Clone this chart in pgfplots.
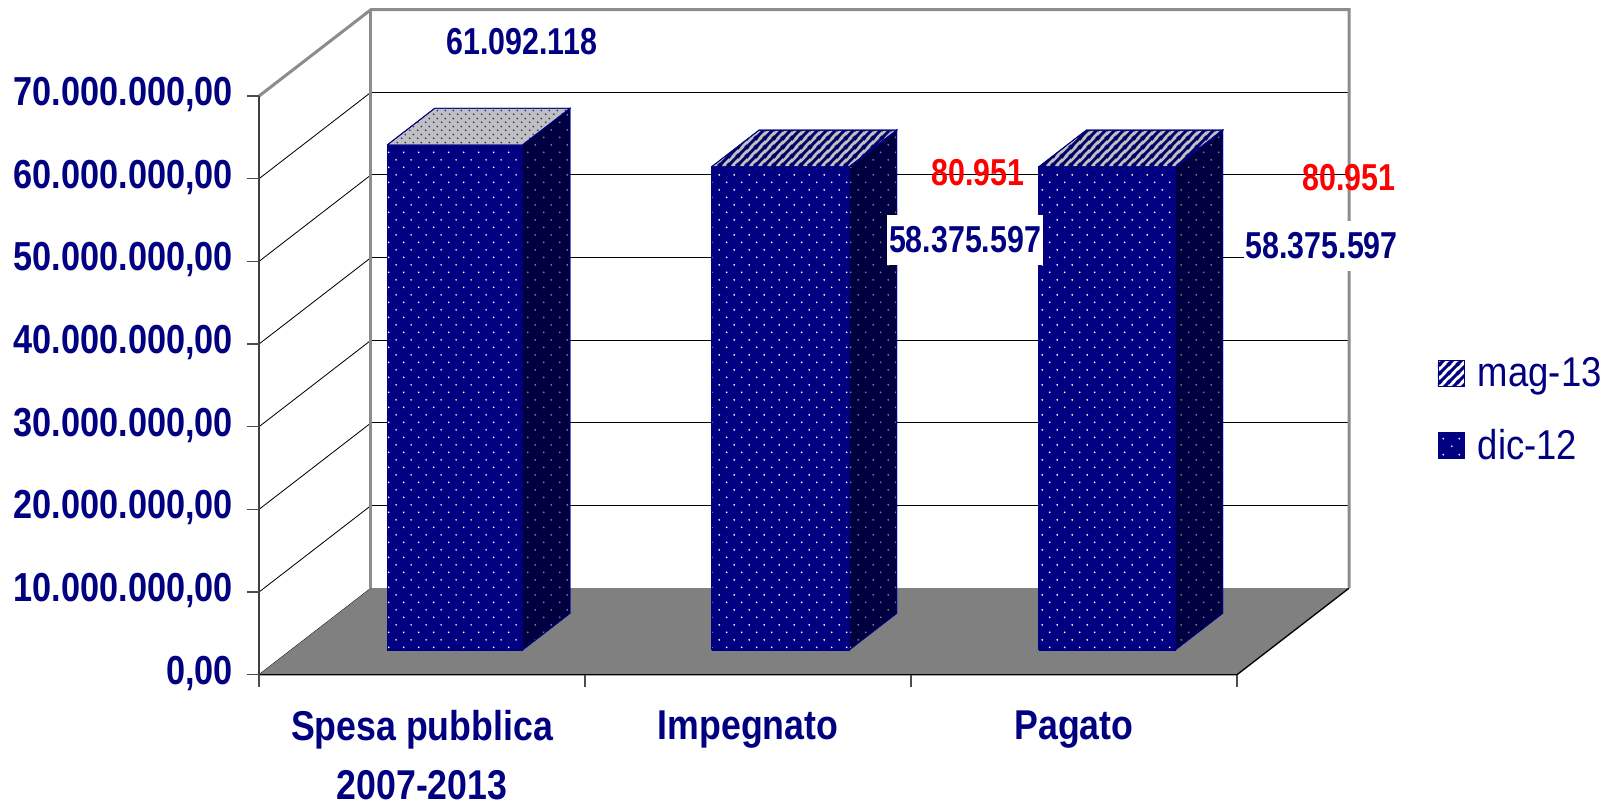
\documentclass[border=0pt]{standalone}
\usepackage{fontspec}
\usepackage{pgfplots}
\pgfplotsset{compat=1.18}
\usetikzlibrary{patterns}
\setmainfont{Liberation Sans}
\newfontfamily\lab[FakeStretch=0.81]{Liberation Sans}
\newfontfamily\zlab[FakeStretch=0.846]{Liberation Sans}
\newfontfamily\xlab[FakeStretch=0.857]{Liberation Sans}
\newfontfamily\leg[FakeStretch=0.875]{Liberation Sans}
\definecolor{nv}{HTML}{000080}
\definecolor{nvd}{HTML}{000040}
\definecolor{flr}{HTML}{808080}
\definecolor{wall}{HTML}{8C8C8C}
\definecolor{topg}{HTML}{C0C0C0}
\pgfdeclarepatternformonly{bdots}{\pgfqpoint{0pt}{0pt}}{\pgfqpoint{9.24pt}{9.24pt}}{\pgfqpoint{9.24pt}{9.24pt}}{%
  \pgfpathcircle{\pgfqpoint{2.31pt}{2.31pt}}{0.6pt}\pgfpathcircle{\pgfqpoint{6.93pt}{6.93pt}}{0.6pt}\pgfusepath{fill}}
\pgfdeclarepatternformonly{tdots}{\pgfqpoint{0pt}{0pt}}{\pgfqpoint{4.8pt}{4.8pt}}{\pgfqpoint{4.8pt}{4.8pt}}{%
  \pgfpathcircle{\pgfqpoint{1.2pt}{1.2pt}}{0.6pt}\pgfpathcircle{\pgfqpoint{3.6pt}{3.6pt}}{0.6pt}\pgfusepath{fill}}
\pgfdeclarepatternformonly{tstripes}{\pgfqpoint{0pt}{0pt}}{\pgfqpoint{5.4pt}{5.4pt}}{\pgfqpoint{5.4pt}{5.4pt}}{%
  \pgfsetlinewidth{1.9pt}\pgfpathmoveto{\pgfqpoint{-1pt}{-1pt}}\pgfpathlineto{\pgfqpoint{6.4pt}{6.4pt}}%
  \pgfpathmoveto{\pgfqpoint{-1pt}{4.4pt}}\pgfpathlineto{\pgfqpoint{1pt}{6.4pt}}%
  \pgfpathmoveto{\pgfqpoint{4.4pt}{-1pt}}\pgfpathlineto{\pgfqpoint{6.4pt}{1pt}}\pgfusepath{stroke}}
\tikzset{
  fr/.style={draw=nv,line width=0.5pt,fill=nv,postaction={pattern=bdots,pattern color=white}},
  sd/.style={draw=nv,line width=0.5pt,fill=nvd,postaction={pattern=bdots,pattern color=gray}},
  tpd/.style={draw=nv,line width=0.5pt,fill=topg,postaction={pattern=tdots,pattern color=nv!70!gray}},
  tps/.style={draw=nv,line width=0.5pt,fill=topg,postaction={pattern=tstripes,pattern color=nv!80!black}},
  tk/.style={draw=black!70,line width=0.8pt},
}
\newcommand\frontf[5]{\addplot3[forget plot,#1] coordinates {(#2,0.2855,#4)(#3,0.2855,#4)(#3,0.2855,#5)(#2,0.2855,#5)(#2,0.2855,#4)};}
\newcommand\sidef[4]{\addplot3[forget plot,#1] coordinates {(#2,0.2855,#3)(#2,0.71,#3)(#2,0.71,#4)(#2,0.2855,#4)(#2,0.2855,#3)};}
\newcommand\topf[4]{\addplot3[forget plot,#1] coordinates {(#2,0.2855,#4)(#3,0.2855,#4)(#3,0.71,#4)(#2,0.71,#4)(#2,0.2855,#4)};}
\newcommand\ztk[1]{\addplot3[forget plot,tk] coordinates {(-0.0368,0,#1)(0,0,#1)};}
\newcommand\xtk[1]{\addplot3[forget plot,tk] coordinates {(#1,0,0)(#1,0,-1.45)};}
\begin{document}
\begin{tikzpicture}
\useasboundingbox (-155.4pt,-77.58pt) rectangle (810pt,404.82pt);
\begin{axis}[
  at={(0pt,0pt)},anchor=origin,
  x={(195.6pt,0pt)},y={(67.2pt,51.9pt)},z={(0pt,4.9596pt)},
  xmin=0,xmax=3,ymin=0,ymax=1,zmin=0,zmax=70,
  clip=false,
  axis line style={draw=none},
  ytick=\empty,
  xtick={0.5,1.5,2.5},
  xticklabels={{Spesa pubblica\\2007-2013},Impegnato,Pagato},
  ztick={0,10,20,30,40,50,60,70},
  zticklabels={{0,00},{10.000.000,00},{20.000.000,00},{30.000.000,00},{40.000.000,00},{50.000.000,00},{60.000.000,00},{70.000.000,00}},
  zmajorgrids=true,
  major grid style={black,line width=0.5pt},
  tickpos=left,
  zticklabel pos=left,
  major tick length=0pt,
  zticklabel style={anchor=east,font=\zlab\bfseries\fontsize{24.3}{26}\selectfont,text=nv,xshift=-15.4pt,yshift=0.9pt,inner sep=0pt},
  xticklabel style={anchor=north,align=center,font=\xlab\bfseries\fontsize{25}{35.4}\selectfont,text=nv,yshift=-21.4pt,inner sep=0pt},
  legend style={at={(1.081,0.3987)},anchor=west,draw=none,fill=none,inner sep=0pt,
    row sep=19.8pt,font=\leg\fontsize{25}{26}\selectfont,text=nv,
    /tikz/every even column/.style={column sep=0pt}},
  legend cell align=left,
]
\addlegendimage{legend image code/.code={\draw[draw=nv,line width=0.4pt,fill=white,postaction={pattern=tstripes,pattern color=nv}] (0pt,-7.8pt) rectangle (15.6pt,7.8pt);\path[draw=none] (0pt,0pt) -- (22pt,0pt);}}
\addlegendentry{mag-13}
\addlegendimage{legend image code/.code={\draw[draw=nv,line width=0.4pt,fill=nv,postaction={pattern=bdots,pattern color=white}] (0pt,-7.8pt) rectangle (15.6pt,7.8pt);\path[draw=none] (0pt,0pt) -- (22pt,0pt);}}
\addlegendentry{dic-12}
% walls edges and floor
\addplot3[forget plot,draw=none,fill=flr] coordinates {(0,0,0)(3,0,0)(3,1,0)(0,1,0)(0,0,0)};
\addplot3[forget plot,draw=black,line width=0.8pt] coordinates {(0,0,0)(3,0,0)(3,1,0)};
\addplot3[forget plot,draw=wall,line width=1.8pt] coordinates {(0,0,70)(0,1,70)(3,1,70)(3,1,0)};
\addplot3[forget plot,draw=wall,line width=1.8pt] coordinates {(0,1,70)(0,1,0)};
\addplot3[forget plot,draw=black!75,line width=1.2pt] coordinates {(0,0,0)(0,0,70)};
% ticks
\ztk{0}\ztk{10}\ztk{20}\ztk{30}\ztk{40}\ztk{50}\ztk{60}\ztk{70}
\xtk{0}\xtk{1}\xtk{2}\xtk{3}
% bar 1, dic-12
\frontf{fr}{0.295}{0.71}{0}{61.092118}
\sidef{sd}{0.71}{0}{61.092118}
\topf{tpd}{0.295}{0.71}{61.092118}
% bar 2, dic-12 and mag-13
\frontf{fr}{1.29}{1.712}{0}{58.375597}
\sidef{sd}{1.712}{0}{58.375597}
\frontf{fr}{1.29}{1.712}{58.375597}{58.456548}
\sidef{sd}{1.712}{58.375597}{58.456548}
\topf{tps}{1.29}{1.712}{58.456548}
% bar 3, dic-12 and mag-13
\frontf{fr}{2.294}{2.712}{0}{58.375597}
\sidef{sd}{2.712}{0}{58.375597}
\frontf{fr}{2.294}{2.712}{58.375597}{58.456548}
\sidef{sd}{2.712}{58.375597}{58.456548}
\topf{tps}{2.294}{2.712}{58.456548}
% labels
\node[font=\lab\bfseries\fontsize{22.5}{26}\selectfont,text=nv] at (axis cs:0.806,0,76.6) {61.092.118};
\node[font=\lab\bfseries\fontsize{22.5}{26}\selectfont,text=red] at (axis cs:2.205,0,60.8) {80.951};
\node[font=\lab\bfseries\fontsize{22.5}{26}\selectfont,text=nv,fill=white,inner xsep=1pt,inner ysep=7pt] at (axis cs:2.166,0,52.6) {58.375.597};
\node[font=\lab\bfseries\fontsize{22.5}{26}\selectfont,text=red] at (axis cs:3.344,0,60.15) {80.951};
\node[font=\lab\bfseries\fontsize{22.5}{26}\selectfont,text=nv,fill=white,inner xsep=1pt,inner ysep=7pt] at (axis cs:3.26,0,51.9) {58.375.597};
\end{axis}
\end{tikzpicture}
\end{document}
